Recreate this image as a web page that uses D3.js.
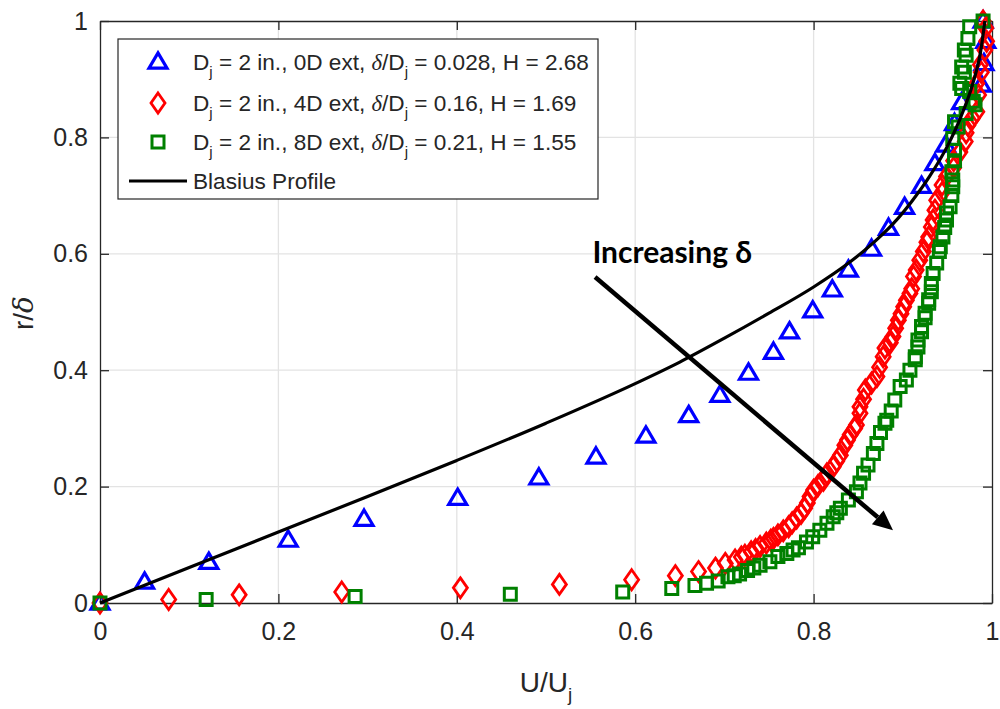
<!DOCTYPE html>
<html><head><meta charset="utf-8">
<script src="https://cdn.jsdelivr.net/npm/d3@7"></script>
<style>
body{margin:0;background:#fff;}
text{font-family:"Liberation Sans",Arial,sans-serif;fill:#262626;}
</style></head>
<body>
<svg id="chart" width="1000" height="709"></svg>
<script>
// ---------- data ----------
const xTicks = [0, 0.2, 0.4, 0.6, 0.8, 1];
const yTicks = [0, 0.2, 0.4, 0.6, 0.8, 1];
const xTickLabels = ["0", "0.2", "0.4", "0.6", "0.8", "1"];
const yTickLabels = ["0", "0.2", "0.4", "0.6", "0.8", "1"];

// D = 2 in., 0D ext (blue triangles) [U/Uj, r/delta]
const series0D = [
 [0,0],[0.050,0.036],[0.122,0.070],[0.211,0.108],[0.296,0.144],[0.401,0.180],
 [0.492,0.215],[0.556,0.251],[0.612,0.287],[0.660,0.322],[0.695,0.357],[0.727,0.395],
 [0.755,0.431],[0.773,0.466],[0.799,0.502],[0.821,0.538],[0.839,0.572],[0.865,0.608],
 [0.884,0.644],[0.902,0.680],[0.921,0.716],[0.936,0.755],[0.948,0.787],[0.958,0.824],
 [0.966,0.860],[0.988,0.890],[0.991,0.927],[0.993,0.965],[0.990,1.0]
];
// D = 2 in., 4D ext (red diamonds)
const series4D = [
 [0,0],[0.077,0.006],[0.156,0.014],[0.271,0.019],[0.404,0.026],[0.515,0.032],
 [0.596,0.040],[0.645,0.047],[0.671,0.054],[0.690,0.060],[0.701,0.068],[0.712,0.074],
 [0.719,0.079],[0.723,0.082],[0.730,0.088],[0.735,0.092],[0.740,0.097],[0.747,0.103],
 [0.752,0.108],[0.755,0.111],[0.760,0.117],[0.766,0.124],[0.772,0.131],[0.776,0.138],
 [0.781,0.146],[0.786,0.154],[0.790,0.163],[0.793,0.172],[0.796,0.183],[0.800,0.194],
 [0.805,0.202],[0.811,0.211],[0.815,0.222],[0.822,0.234],[0.826,0.244],[0.830,0.254],
 [0.835,0.271],[0.838,0.280],[0.841,0.289],[0.846,0.300],[0.848,0.306],[0.852,0.326],
 [0.852,0.337],[0.856,0.350],[0.858,0.366],[0.865,0.378],[0.871,0.389],[0.874,0.405],
 [0.878,0.423],[0.880,0.438],[0.886,0.447],[0.889,0.458],[0.892,0.472],[0.895,0.486],
 [0.898,0.497],[0.901,0.509],[0.904,0.520],[0.908,0.532],[0.910,0.540],[0.912,0.561],
 [0.915,0.572],[0.919,0.589],[0.923,0.604],[0.927,0.620],[0.929,0.629],[0.932,0.646],
 [0.934,0.658],[0.936,0.675],[0.938,0.692],[0.944,0.705],[0.944,0.718],[0.949,0.733],
 [0.957,0.748],[0.957,0.760],[0.964,0.775],[0.970,0.793],[0.971,0.808],[0.973,0.821],
 [0.978,0.833],[0.983,0.844],[0.979,0.862],[0.985,0.873],[0.983,0.893],[0.988,0.912],
 [0.987,0.925],[0.992,0.950],[0.994,0.965],[0.993,0.988],[0.990,1.0]
];
// D = 2 in., 8D ext (green squares)
const series8D = [
 [0,0],[0.119,0.006],[0.286,0.011],[0.460,0.015],[0.586,0.019],[0.641,0.025],
 [0.667,0.030],[0.680,0.034],[0.693,0.038],[0.704,0.045],[0.711,0.047],[0.717,0.050],
 [0.726,0.056],[0.733,0.060],[0.740,0.065],[0.751,0.071],[0.760,0.080],[0.770,0.085],
 [0.777,0.091],[0.783,0.095],[0.792,0.105],[0.799,0.114],[0.807,0.125],[0.815,0.137],
 [0.822,0.148],[0.826,0.155],[0.830,0.163],[0.839,0.177],[0.848,0.191],[0.852,0.206],
 [0.856,0.223],[0.861,0.237],[0.867,0.257],[0.871,0.274],[0.875,0.293],[0.880,0.309],
 [0.882,0.314],[0.887,0.330],[0.891,0.349],[0.897,0.372],[0.904,0.383],[0.908,0.400],
 [0.914,0.418],[0.914,0.423],[0.917,0.440],[0.917,0.452],[0.921,0.466],[0.921,0.475],
 [0.925,0.490],[0.925,0.498],[0.929,0.515],[0.929,0.521],[0.932,0.535],[0.932,0.549],
 [0.934,0.566],[0.938,0.584],[0.941,0.604],[0.942,0.612],[0.945,0.629],[0.947,0.645],
 [0.949,0.658],[0.949,0.670],[0.953,0.681],[0.955,0.700],[0.956,0.715],[0.956,0.727],
 [0.955,0.741],[0.958,0.760],[0.958,0.778],[0.956,0.798],[0.962,0.818],[0.958,0.827],
 [0.971,0.841],[0.981,0.856],[0.979,0.862],[0.975,0.879],[0.966,0.884],[0.964,0.893],
 [0.969,0.912],[0.966,0.921],[0.971,0.941],[0.969,0.950],[0.973,0.970],[0.975,0.990],
 [0.990,1.0]
];
// Blasius profile (black line)
const blasius = [
 [0,0],[0.10,0.061],[0.20,0.122],[0.30,0.183],[0.40,0.245],[0.50,0.309],[0.60,0.377],
 [0.65,0.414],[0.70,0.455],[0.75,0.498],[0.80,0.543],[0.84,0.585],[0.87,0.623],
 [0.89,0.653],[0.91,0.690],[0.93,0.733],[0.95,0.785],[0.965,0.835],[0.978,0.890],
 [0.987,0.945],[0.992,1.0]
];
const legendLabels = [
 {pre:" = 2 in., 0D ext, ", ratio:" = 0.028, H = 2.68"},
 {pre:" = 2 in., 4D ext, ", ratio:" = 0.16, H = 1.69"},
 {pre:" = 2 in., 8D ext, ", ratio:" = 0.21, H = 1.55"}
];
const blasiusLabel = "Blasius Profile";
const annotationText = "Increasing δ";
const arrowStart = [0.555, 0.560];
const arrowEnd = [0.889, 0.125];
const annotationPos = [0.552, 0.584];

// ---------- drawing ----------
const svg = d3.select("#chart");
const L = 100, R = 992, T = 21, B = 603;
const x = d3.scaleLinear().domain([0,1]).range([L,R]);
const y = d3.scaleLinear().domain([0,1]).range([B,T]);
const axisCol = "#262626";

// grid
const grid = svg.append("g");
grid.selectAll(".gx").data(xTicks.slice(1,-1)).join("line")
  .attr("x1", d=>x(d)).attr("x2", d=>x(d)).attr("y1", T).attr("y2", B)
  .attr("stroke", "#e3e3e3").attr("stroke-width", 1.3);
grid.selectAll(".gy").data(yTicks.slice(1,-1)).join("line")
  .attr("y1", d=>y(d)).attr("y2", d=>y(d)).attr("x1", L).attr("x2", R)
  .attr("stroke", "#e3e3e3").attr("stroke-width", 1.3);

// axes
const fs = 25;
const xAxis = d3.axisBottom(x).tickValues(xTicks).tickFormat((d,i)=>xTickLabels[i]).tickSizeInner(-9).tickSizeOuter(0).tickPadding(19);
const yAxis = d3.axisLeft(y).tickValues(yTicks).tickFormat((d,i)=>yTickLabels[i]).tickSizeInner(-9).tickSizeOuter(0).tickPadding(12);
const xTop = d3.axisTop(x).tickValues(xTicks).tickFormat("").tickSizeInner(-9).tickSizeOuter(0);
const yRight = d3.axisRight(y).tickValues(yTicks).tickFormat("").tickSizeInner(-9).tickSizeOuter(0);

function styleAxis(g){
  g.select(".domain").attr("stroke", axisCol).attr("stroke-width", 1.3);
  g.selectAll(".tick line").attr("stroke", axisCol).attr("stroke-width", 1.3);
  g.selectAll(".tick text").attr("fill", axisCol).style("font-size", fs+"px").style("font-family","Liberation Sans, Arial, sans-serif");
}
svg.append("g").attr("transform", `translate(0,${B})`).call(xAxis).call(styleAxis);
svg.append("g").attr("transform", `translate(${L},0)`).call(yAxis).call(styleAxis);
svg.append("g").attr("transform", `translate(0,${T})`).call(xTop).call(styleAxis);
svg.append("g").attr("transform", `translate(${R},0)`).call(yRight).call(styleAxis);

// marker shapes
function triPath(s){ const h=s*0.85; return `M0,${-h*0.6}L${s/2},${h*0.4}L${-s/2},${h*0.4}Z`; }
function diaPath(w,h){ return `M0,${-h/2}L${w/2},0L0,${h/2}L${-w/2},0Z`; }
function sqPath(s){ return `M${-s/2},${-s/2}H${s/2}V${s/2}H${-s/2}Z`; }

const plot = svg.append("g");
plot.selectAll(".tri").data(series0D).join("path")
  .attr("d", triPath(18)).attr("transform", d=>`translate(${x(d[0])},${y(d[1])})`)
  .attr("fill","none").attr("stroke","#0000ff").attr("stroke-width",3.2).attr("stroke-linejoin","miter");
plot.selectAll(".dia").data(series4D).join("path")
  .attr("d", diaPath(14,20)).attr("transform", d=>`translate(${x(d[0])},${y(d[1])})`)
  .attr("fill","none").attr("stroke","#ff0000").attr("stroke-width",2.8);
plot.selectAll(".sq").data(series8D).join("path")
  .attr("d", sqPath(12)).attr("transform", d=>`translate(${x(d[0])},${y(d[1])})`)
  .attr("fill","none").attr("stroke","#008000").attr("stroke-width",3);

const line = d3.line().x(d=>x(d[0])).y(d=>y(d[1])).curve(d3.curveMonotoneX);
plot.append("path").datum(blasius).attr("d", line)
  .attr("fill","none").attr("stroke","#000").attr("stroke-width",3.2);

// annotation arrow
const ax1 = x(arrowStart[0]), ay1 = y(arrowStart[1]), ax2 = x(arrowEnd[0]), ay2 = y(arrowEnd[1]);
const ang = Math.atan2(ay2-ay1, ax2-ax1);
const headLen = 20, headW = 9;
const bx = ax2 - headLen*Math.cos(ang), by = ay2 - headLen*Math.sin(ang);
svg.append("line").attr("x1",ax1).attr("y1",ay1).attr("x2",bx).attr("y2",by)
  .attr("stroke","#000").attr("stroke-width",4.5);
svg.append("path").attr("d", `M${ax2},${ay2}L${bx+headW*Math.sin(ang)},${by-headW*Math.cos(ang)}L${bx-headW*Math.sin(ang)},${by+headW*Math.cos(ang)}Z`)
  .attr("fill","#000");
svg.append("text").attr("x", x(annotationPos[0])).attr("y", y(annotationPos[1]))
  .text(annotationText).style("font-family","Lato, 'Open Sans', sans-serif").style("font-weight","700")
  .style("font-size","30px").attr("fill","#000").style("fill","#000");

// axis titles
const xt = svg.append("text").attr("x", 546).attr("y", 692).attr("text-anchor","middle").style("font-size","28px");
xt.append("tspan").text("U/U");
xt.append("tspan").text("j").attr("dy", 9).style("font-size","19px");
const yt = svg.append("text").attr("transform","translate(33,313) rotate(-90)").attr("text-anchor","middle").style("font-size","28px");
yt.append("tspan").text("r/");
yt.append("tspan").text("δ").style("font-family","DejaVu Serif, serif").style("font-style","italic");

// legend
const lg = svg.append("g");
lg.append("rect").attr("x",118).attr("y",39).attr("width",480).attr("height",160)
  .attr("fill","#fff").attr("stroke",axisCol).attr("stroke-width",1.2);
const rowsY = [62, 103, 142];
const lfs = 22.6;
const mk = [ {d:triPath(18), c:"#0000ff", w:3.2}, {d:diaPath(14,20), c:"#ff0000", w:2.8}, {d:sqPath(12), c:"#008000", w:3} ];
legendLabels.forEach((lab,i)=>{
  lg.append("path").attr("d", mk[i].d).attr("transform",`translate(158,${rowsY[i]})`)
    .attr("fill","none").attr("stroke",mk[i].c).attr("stroke-width",mk[i].w);
  const t = lg.append("text").attr("x",193).attr("y",rowsY[i]+8).style("font-size",lfs+"px");
  t.append("tspan").text("D");
  t.append("tspan").text("j").attr("dy",7).style("font-size","15px");
  t.append("tspan").text(lab.pre).attr("dy",-7);
  t.append("tspan").text("δ").style("font-family","Liberation Serif, serif").style("font-style","italic");
  t.append("tspan").text("/D");
  t.append("tspan").text("j").attr("dy",7).style("font-size","15px");
  t.append("tspan").text(lab.ratio).attr("dy",-7);
});
lg.append("line").attr("x1",129).attr("x2",187).attr("y1",181).attr("y2",181).attr("stroke","#000").attr("stroke-width",3);
lg.append("text").attr("x",193).attr("y",189).style("font-size",lfs+"px").text(blasiusLabel);
</script>
</body></html>
